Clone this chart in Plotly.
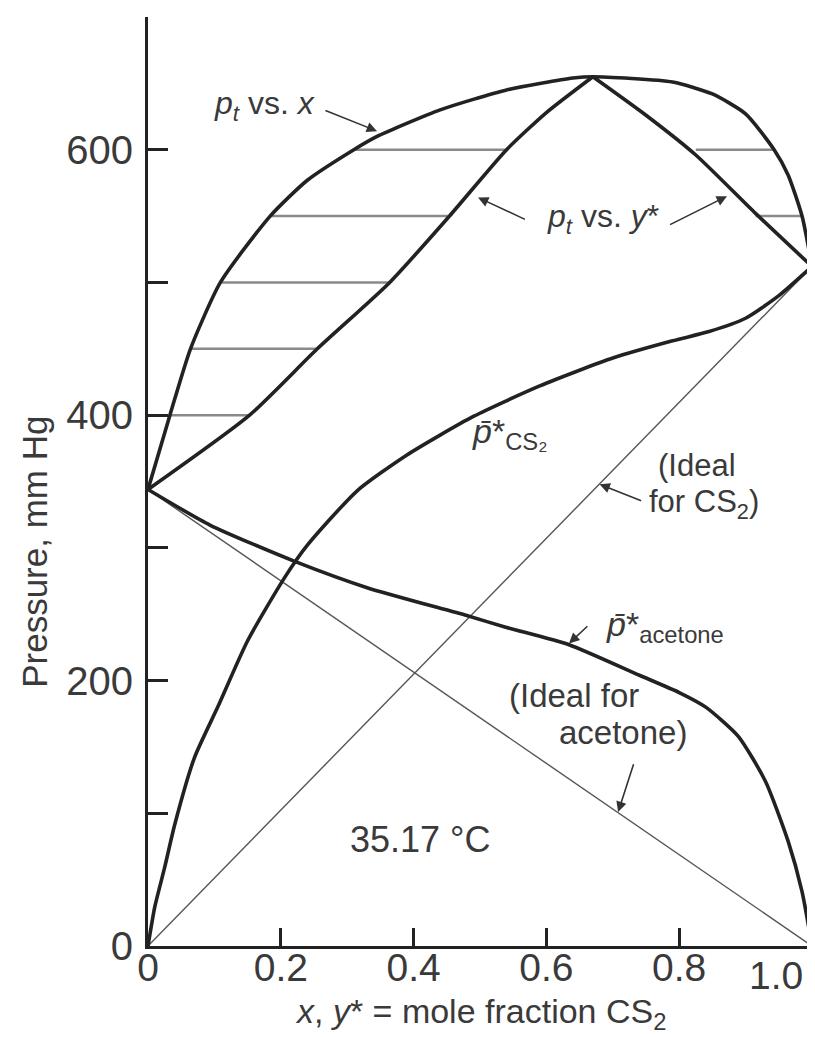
import plotly.graph_objects as go

# ---- data ----
# total pressure vs liquid composition x (bubble curve)
pt_x_x = [0, 0.033, 0.064, 0.109, 0.184, 0.24, 0.31, 0.345, 0.44, 0.54, 0.64, 0.67, 0.79, 0.85, 0.9, 0.943, 0.964, 0.985, 1.0]
pt_x_p = [344, 400, 450, 500, 550, 577, 600, 610, 630, 645, 654, 655, 651, 642, 627, 600, 581, 550, 512]

# total pressure vs vapour composition y* (dew curve), two branches meeting at azeotrope
pt_y_left_y = [0, 0.153, 0.255, 0.364, 0.454, 0.54, 0.60, 0.67]
pt_y_left_p = [344, 400, 450, 500, 550, 600, 628, 655]
pt_y_right_y = [0.67, 0.75, 0.825, 0.915, 1.0]
pt_y_right_p = [655, 626, 596, 552, 512]

# partial pressure of CS2
pcs2_x = [0, 0.01, 0.025, 0.04, 0.07, 0.105, 0.15, 0.205, 0.24, 0.315, 0.39, 0.49, 0.59, 0.7, 0.79, 0.845, 0.9, 0.95, 1.0]
pcs2_p = [0, 29, 59, 91, 142, 180, 230, 277, 302, 343, 370, 399, 422, 443, 456, 463, 473, 490, 512]

# partial pressure of acetone
pac_x = [0, 0.094, 0.22, 0.33, 0.48, 0.54, 0.634, 0.74, 0.8, 0.84, 0.889, 0.93, 0.964, 0.985, 1.0]
pac_p = [344, 317, 290, 270, 249, 240, 227, 204, 191, 180, 158, 124, 79, 41, 0]

# ideal (Raoult) lines
ideal_cs2_x = [0, 1.0]
ideal_cs2_p = [0, 512]
ideal_ac_x = [0, 1.0]
ideal_ac_p = [344, 0]

# tie lines (horizontal): pressure, x end, y* end
tie_p = [400, 450, 500, 550, 600, 600, 550]
tie_x = [0.033, 0.064, 0.109, 0.184, 0.31, 0.943, 0.985]
tie_y = [0.153, 0.255, 0.364, 0.454, 0.54, 0.825, 0.915]

y_tickvals = [0, 100, 200, 300, 400, 500, 600, 700]
y_ticktext = ['0', '', '200', '', '400', '', '600', '']
x_tickvals = [0, 0.2, 0.4, 0.6, 0.8, 1.0]
x_ticktext = ['0', '0.2', '0.4', '0.6', '0.8', '']
last_x_label = '1.0'

FONT = "Liberation Sans, Arial, sans-serif"
DARK = "#222222"
TXT = "#3a3a3a"

fig = go.Figure()

# tie lines
for p, xa, ya in zip(tie_p, tie_x, tie_y):
    fig.add_trace(go.Scatter(x=[xa, ya], y=[p, p], mode='lines',
                             line=dict(color='#8a8a8a', width=2.5), hoverinfo='skip'))

# ideal lines
fig.add_trace(go.Scatter(x=ideal_cs2_x, y=ideal_cs2_p, mode='lines',
                         line=dict(color='#555555', width=1.4)))
fig.add_trace(go.Scatter(x=ideal_ac_x, y=ideal_ac_p, mode='lines',
                         line=dict(color='#555555', width=1.4)))

# main curves
thick = dict(color=DARK, width=3.6, shape='spline', smoothing=0.6)
fig.add_trace(go.Scatter(x=pt_x_x, y=pt_x_p, mode='lines', line=thick))
fig.add_trace(go.Scatter(x=pt_y_left_y, y=pt_y_left_p, mode='lines', line=thick))
fig.add_trace(go.Scatter(x=pt_y_right_y, y=pt_y_right_p, mode='lines', line=thick))
fig.add_trace(go.Scatter(x=pcs2_x, y=pcs2_p, mode='lines', line=thick))
fig.add_trace(go.Scatter(x=pac_x, y=pac_p, mode='lines', line=thick))

ann = []

def label(x, y, text, size=34, xanchor='center'):
    ann.append(dict(x=x, y=y, xref='x', yref='y', text=text, showarrow=False,
                    xanchor=xanchor, yanchor='middle',
                    font=dict(family=FONT, size=size, color=TXT)))

def arrow(tx, ty, hx, hy):
    ann.append(dict(x=hx, y=hy, ax=tx, ay=ty, xref='x', yref='y', axref='x', ayref='y',
                    text='', showarrow=True, arrowhead=2, arrowsize=1.3,
                    arrowwidth=1.6, arrowcolor='#333333', standoff=0, startstandoff=0))

label(0.176, 633, "<i>p</i><sub><i>t</i></sub> vs. <i>x</i>", size=32)
arrow(0.265, 630, 0.345, 614)

label(0.685, 548, "<i>p</i><sub><i>t</i></sub> vs. <i>y</i>*", size=32)
arrow(0.57, 547, 0.497, 564)
arrow(0.784, 543, 0.872, 565)

label(0.545, 386, "<i>p\u0304</i>*<sub>CS\u2082</sub>", size=34)

label(0.765, 362, "(Ideal", size=31, xanchor='left')
label(0.752, 333, "for CS<sub>2</sub>)", size=31, xanchor='left')
arrow(0.745, 335, 0.68, 348)

label(0.778, 241, "<i>p\u0304</i>*<sub>acetone</sub>", size=34)
arrow(0.664, 242, 0.634, 228)

label(0.642, 189, "(Ideal for", size=33)
label(0.715, 161, "acetone)", size=33)
arrow(0.732, 138, 0.708, 101)

label(0.41, 80, "35.17 °C", size=36)

# last x tick label, kept inside the page
ann.append(dict(x=1.0, y=0, xref='x', yref='paper', xanchor='right', yanchor='middle',
                xshift=-7, yshift=-29, text=last_x_label, showarrow=False,
                font=dict(family=FONT, size=39, color=TXT)))

# axis titles as annotations
ann.append(dict(x=0.5, y=0, xref='x', yref='paper', yshift=-67, yanchor='middle',
                text="<i>x</i>, <i>y</i>* = mole fraction CS<sub>2</sub>", showarrow=False,
                font=dict(family=FONT, size=34, color=TXT)))
ann.append(dict(x=0, y=297, xref='paper', yref='y', xshift=-113, xanchor='center',
                text="Pressure, mm Hg", textangle=-90, showarrow=False,
                font=dict(family=FONT, size=35, color=TXT)))

fig.update_layout(
    width=815, height=1037,
    margin=dict(l=140, r=8, t=9, b=99),
    paper_bgcolor='white', plot_bgcolor='white',
    showlegend=False,
    annotations=ann,
    xaxis=dict(range=[0, 1.0], tickvals=x_tickvals, ticktext=x_ticktext,
               ticks='inside', ticklen=18, tickwidth=2.5, tickcolor=DARK,
               ticklabelstandoff=-15,
               showline=True, linewidth=3, linecolor=DARK, showgrid=False, zeroline=False,
               tickfont=dict(family=FONT, size=39, color=TXT)),
    yaxis=dict(range=[0, 700], tickvals=y_tickvals, ticktext=y_ticktext,
               ticks='inside', ticklen=20, tickwidth=2.5, tickcolor=DARK,
               ticklabelstandoff=4,
               showline=True, linewidth=3, linecolor=DARK, mirror=True,
               showgrid=False, zeroline=False,
               tickfont=dict(family=FONT, size=40, color=TXT)),
)

fig.write_html("out.html")
